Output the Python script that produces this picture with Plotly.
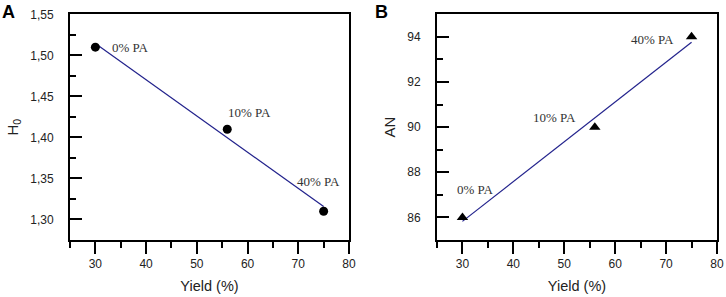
import numpy as np
import plotly.graph_objects as go

# ---- data ----
yield_pct = [30, 56, 75]
h0_values = [1.51, 1.41, 1.31]
an_values = [86, 90, 94]
labels = ["0% PA", "10% PA", "40% PA"]
x_ticks = [30, 40, 50, 60, 70, 80]

# linear fits (regression of the plotted points)
fit_a = np.polyfit(yield_pct, h0_values, 1)
fit_b = np.polyfit(yield_pct, an_values, 1)
fit_x = [min(yield_pct), max(yield_pct)]

LINE_COLOR = "#22228c"
AX_FONT = "Arial, Liberation Sans, sans-serif"
SERIF = "Times New Roman, Liberation Serif, serif"

fig = go.Figure()

fig.add_trace(go.Scatter(x=fit_x, y=np.polyval(fit_a, fit_x), mode="lines",
                         line=dict(color=LINE_COLOR, width=1.2), xaxis="x", yaxis="y",
                         showlegend=False, hoverinfo="skip"))
fig.add_trace(go.Scatter(x=yield_pct, y=h0_values, mode="markers",
                         marker=dict(symbol="circle", size=9, color="black"),
                         xaxis="x", yaxis="y", showlegend=False))
fig.add_trace(go.Scatter(x=fit_x, y=np.polyval(fit_b, fit_x), mode="lines",
                         line=dict(color=LINE_COLOR, width=1.2), xaxis="x2", yaxis="y2",
                         showlegend=False, hoverinfo="skip"))
fig.add_trace(go.Scatter(x=yield_pct, y=an_values, mode="markers",
                         marker=dict(symbol="triangle-up", size=10, color="black"),
                         xaxis="x2", yaxis="y2", showlegend=False))

# label offsets (pixels) relative to each point
offs_a = [dict(xanchor="left", xshift=15, yshift=0),
          dict(xanchor="left", xshift=-1, yshift=17),
          dict(xanchor="right", xshift=18, yshift=30)]
offs_b = [dict(xanchor="left", xshift=-7, yshift=28),
          dict(xanchor="right", xshift=-17, yshift=10),
          dict(xanchor="right", xshift=-16, yshift=-3)]

ann = []
for xv, yv, lab, o in zip(yield_pct, h0_values, labels, offs_a):
    ann.append(dict(x=xv, y=yv, xref="x", yref="y", text=lab, showarrow=False,
                    yanchor="middle", font=dict(family=SERIF, size=13, color="#333"), **o))
for xv, yv, lab, o in zip(yield_pct, an_values, labels, offs_b):
    ann.append(dict(x=xv, y=yv, xref="x2", yref="y2", text=lab, showarrow=False,
                    yanchor="middle", font=dict(family=SERIF, size=13, color="#333"), **o))
# panel letters
ann.append(dict(x=0.0, y=1.0, xref="paper", yref="paper", text="<b>A</b>", showarrow=False,
                xanchor="left", yanchor="top", font=dict(family=AX_FONT, size=18, color="black")))
ann.append(dict(x=0.514, y=1.0, xref="paper", yref="paper", text="<b>B</b>", showarrow=False,
                xanchor="left", yanchor="top", font=dict(family=AX_FONT, size=18, color="black")))

W, H = 726, 297
y_dom = [1 - 240 / H, 1 - 14.3 / H]

def xaxis(dom, anchor):
    return dict(domain=dom, anchor=anchor, range=[25, 80], tickvals=x_ticks,
                ticks="outside", ticklen=12, tickwidth=2, tickcolor="black",
                minor=dict(ticks="outside", dtick=5, tick0=25, ticklen=6, tickwidth=2, tickcolor="black"),
                showline=True, linewidth=2, linecolor="black", mirror=True,
                showgrid=False, zeroline=False, automargin=False,
                tickfont=dict(family=AX_FONT, size=12, color="#222"),
                title=dict(text="Yield (%)", standoff=10,
                           font=dict(family=AX_FONT, size=14.5, color="#222")))

def yaxis(dom, anchor, rng, tick0, dtick, mdtick, fmt, title):
    return dict(domain=dom, anchor=anchor, range=rng, tick0=tick0, dtick=dtick, tickformat=fmt,
                ticks="inside", ticklen=12, tickwidth=2, tickcolor="black", ticklabelstandoff=12,
                minor=dict(ticks="inside", dtick=mdtick, ticklen=6, tickwidth=2, tickcolor="black"),
                showline=True, linewidth=2, linecolor="black", mirror=True,
                showgrid=False, zeroline=False, automargin=False,
                tickfont=dict(family=AX_FONT, size=12, color="#222"),
                title=dict(text=title, standoff=8, font=dict(family=AX_FONT, size=15, color="#222")))

fig.update_layout(
    width=W, height=H,
    margin=dict(l=0, r=0, t=0, b=0),
    paper_bgcolor="white", plot_bgcolor="white",
    separators=", ",
    xaxis=xaxis([70 / W, 349 / W], "y"),
    yaxis=yaxis(y_dom, "x", [1.275, 1.55], 1.30, 0.05, 0.025, ".2f", "H<sub>0</sub>"),
    xaxis2=xaxis([437 / W, 717 / W], "y2"),
    yaxis2=yaxis(y_dom, "x2", [85, 95], 86, 2, 1, "d", "AN"),
    annotations=ann,
)

fig.write_html("out.html", config={"displayModeBar": False},
               post_script="document.body.style.margin='0';document.body.style.overflow='hidden';")
